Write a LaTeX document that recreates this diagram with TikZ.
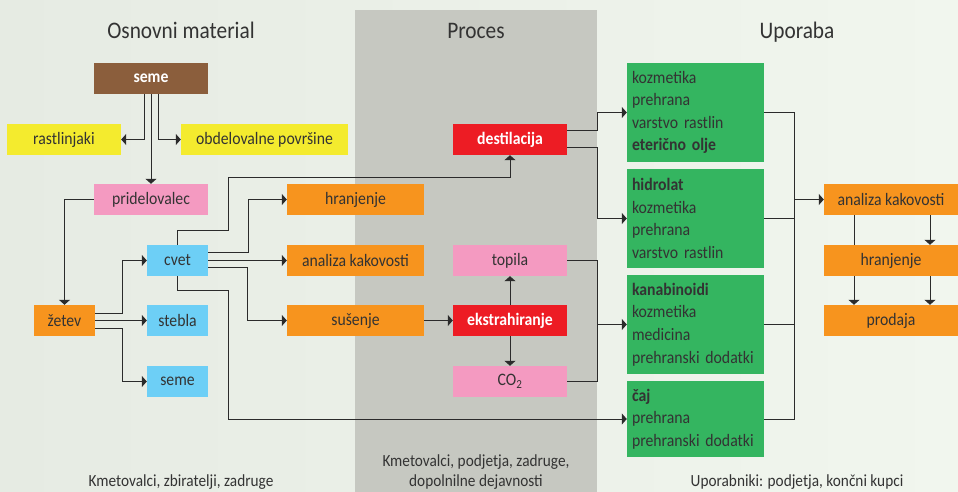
\documentclass[tikz,border=0pt]{standalone}
\usepackage{fontspec}
\setmainfont{Carlito}[FakeStretch=0.9]
\usetikzlibrary{arrows.meta,calc}
\pgfdeclarelayer{bg}
\pgfsetlayers{bg,main}
\definecolor{bgl}{HTML}{E6EBE3}
\definecolor{bgr}{HTML}{F1F6EE}
\definecolor{band}{HTML}{C6C8C1}
\definecolor{brn}{HTML}{8B5E3C}
\definecolor{ylw}{HTML}{F4EB2E}
\definecolor{pnk}{HTML}{F49AC1}
\definecolor{org}{HTML}{F7941E}
\definecolor{blu}{HTML}{6DCFF6}
\definecolor{rd}{HTML}{ED1C24}
\definecolor{grn}{HTML}{34B560}
\definecolor{txt}{HTML}{333333}
\definecolor{lnc}{HTML}{2B2B2B}
\begin{document}
\begin{tikzpicture}[x=1pt,y=-1pt,
  box/.style={rectangle, minimum height=31pt, inner sep=0pt, text=txt,
    font=\fontsize{17.5}{20}\selectfont},
  wbox/.style={box, text=white, font=\fontsize{17.5}{20}\selectfont\bfseries},
  gbox/.style={rectangle, fill=grn, text=txt, text width=127pt, inner xsep=5pt,
    inner ysep=0pt, align=left, font=\fontsize{17.5}{22.6}\selectfont},
  head/.style={anchor=base, text=txt, font=\fontsize{23.7}{28}\selectfont},
  foot/.style={anchor=base, text=txt, font=\fontsize{17}{20}\selectfont},
  ln/.style={line width=1pt, draw=lnc},
  arr/.style={ln, -{Triangle[length=5pt,width=11pt]}}]
\useasboundingbox (0,0) rectangle (958,492);
\begin{pgfonlayer}{bg}
  \fill[left color=bgl, right color=bgr] (0,0) rectangle (958,492);
  \fill[band] (355,10) rectangle (597,492);
\end{pgfonlayer}

% headings
\node[head] (h1) at (181,39) {Osnovni material};
\node[head] (h2) at (476,39) {Proces};
\node[head] (h3) at (797,39) {Uporaba};

% footers
\node[foot] (f1) at (181,486.5) {Kmetovalci, zbiratelji, zadruge};
\node[foot] (f2) at (476,466) {Kmetovalci, podjetja, zadruge,};
\node[foot] (f3) at (476,486.5) {dopolnilne dejavnosti};
\node[foot] (f4) at (797,486.5) {Uporabniki: podjetja, končni kupci};

% left column
\node[wbox, fill=brn, minimum width=114pt] (seme) at (151,78.5) {seme};
\node[box, fill=ylw, minimum width=114pt] (rast) at (64,139.5) {rastlinjaki};
\node[box, fill=ylw, minimum width=167pt] (obd) at (264.5,139.5) {obdelovalne površine};
\node[box, fill=pnk, minimum width=114pt] (prid) at (151,199.5) {pridelovalec};
\node[box, fill=org, minimum width=61pt] (zetev) at (64.5,320.5) {žetev};
\node[box, fill=blu, minimum width=61pt] (cvet) at (177.5,260.5) {cvet};
\node[box, fill=blu, minimum width=61pt] (stebla) at (177.5,320.5) {stebla};
\node[box, fill=blu, minimum width=61pt] (seme2) at (177.5,381.5) {seme};
\node[box, fill=org, minimum width=137pt] (hran) at (355.5,199.5) {hranjenje};
\node[box, fill=org, minimum width=137pt] (anal) at (355.5,260.5) {analiza kakovosti};
\node[box, fill=org, minimum width=137pt] (sus) at (355.5,320.5) {sušenje};

% process column
\node[wbox, fill=rd, minimum width=114pt] (dest) at (510,139.5) {destilacija};
\node[box, fill=pnk, minimum width=114pt] (top) at (510,260.5) {topila};
\node[wbox, fill=rd, minimum width=114pt] (ekst) at (510,320.5) {ekstrahiranje};
\node[box, fill=pnk, minimum width=114pt] (co) at (510,381.5) {CO\textsubscript{2}};

% use column
\node[gbox, minimum height=99pt] (g1) at (695.5,112.5) {kozmetika\\prehrana\\varstvo rastlin\\\textbf{eterično olje}};
\node[gbox, minimum height=99pt] (g2) at (695.5,218.5) {\textbf{hidrolat}\\kozmetika\\prehrana\\varstvo rastlin};
\node[gbox, minimum height=99pt] (g3) at (695.5,324.5) {\textbf{kanabinoidi}\\kozmetika\\medicina\\prehranski dodatki};
\node[gbox, minimum height=76pt] (g4) at (695.5,419) {\textbf{čaj}\\prehrana\\prehranski dodatki};

\node[box, fill=org, minimum width=134pt] (anal2) at (891,199.5) {analiza kakovosti};
\node[box, fill=org, minimum width=134pt] (hran2) at (891,260.5) {hranjenje};
\node[box, fill=org, minimum width=134pt] (prod) at (891,320.5) {prodaja};

\coordinate (j1) at (597,324.5);
\coordinate (j2) at (794,199.5);

% connectors left
\draw[arr] ([xshift=-7pt]seme.south) |- (rast.east);
\draw[arr] (seme.south) -- (prid.north);
\draw[arr] ([xshift=7pt]seme.south) |- (obd.west);
\draw[arr] (prid.west) -| (zetev.north);
\draw[arr] ([yshift=7.5pt]zetev.east) -- ++(27,0) |- (cvet.west);
\draw[arr] (zetev.east) -- (stebla.west);
\draw[arr] ([yshift=-7.5pt]zetev.east) -- ++(27,0) |- (seme2.west);
\draw[arr] ([yshift=8.5pt]cvet.east) -- ++(40,0) |- (hran.west);
\draw[arr] (cvet.east) -- (anal.west);
\draw[arr] ([yshift=-7pt]cvet.east) -- ++(39,0) |- (sus.west);
\draw[arr] (cvet.north) |- (228,230) -- (228,177) -| (dest.south);
\draw[arr] (cvet.south) |- (228,290) |- (g4.west);

% process connectors
\draw[arr] (sus.east) -- (ekst.west);
\draw[arr] (ekst.north) -- (top.south);
\draw[arr] (ekst.south) -- (co.north);
\draw[ln] (top.east) -| (j1);
\draw[ln] (co.east) -| (j1);
\draw[arr] (j1) -- (g3.west);
\draw[arr] ([yshift=8.5pt]dest.east) -- ++(30,0) |- (g1.west);
\draw[arr] ([yshift=-7.5pt]dest.east) -- ++(30,0) |- (g2.west);

% right connectors
\draw[ln] (g1.east) -| (j2);
\draw[ln] (g2.east) -| (j2);
\draw[ln] (g3.east) -| (j2);
\draw[ln] (g4.east) -| (j2);
\draw[arr] (j2) -- (anal2.west);
\draw[arr] ([xshift=39pt]anal2.south) -- ([xshift=39pt]hran2.north);
\draw[arr] ([xshift=39pt]hran2.south) -- ([xshift=39pt]prod.north);
\draw[arr] ([xshift=-37pt]hran2.south) -- ([xshift=-37pt]prod.north);
\begin{pgfonlayer}{bg}
  \draw[ln] ([xshift=-37pt]anal2.south) -- ([xshift=-37pt]hran2.north);
\end{pgfonlayer}
\end{tikzpicture}
\end{document}
